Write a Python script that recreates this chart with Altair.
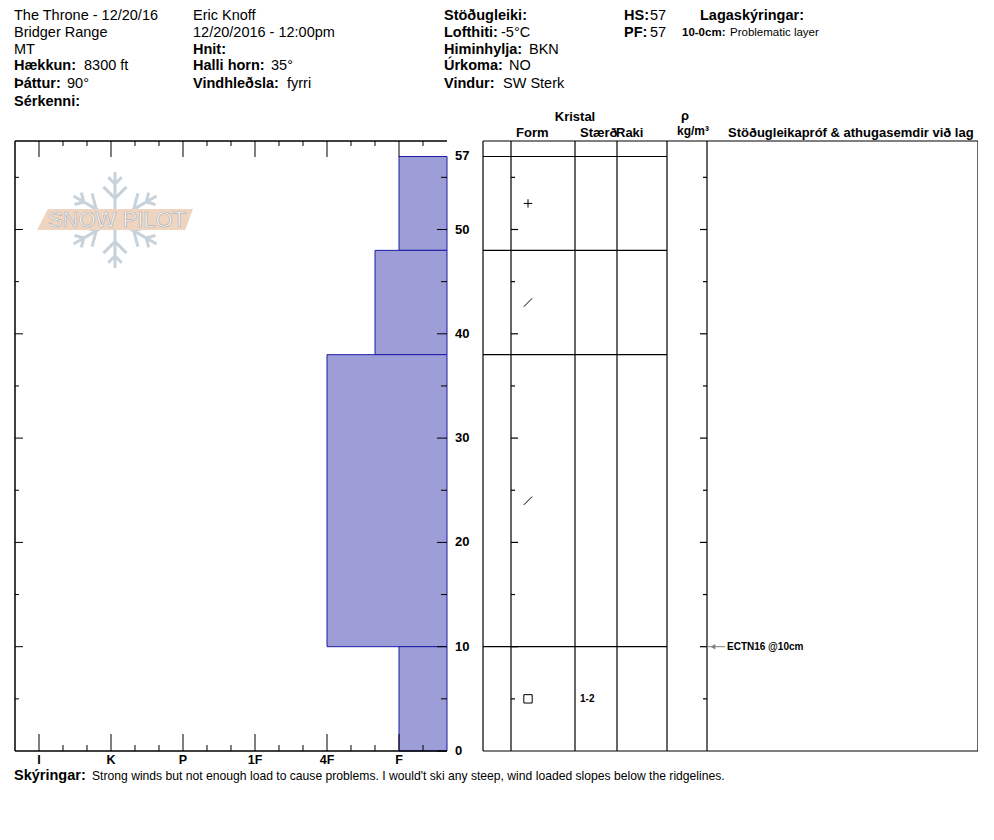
import math
import altair as alt
import pandas as pd

# ---------------- data ----------------
LAYER_TOP = [57, 48, 38, 10]
LAYER_BOTTOM = [48, 38, 10, 0]
LAYER_HARDNESS = ["F", "F+", "4F", "F"]
LAYER_FORM = ["PP", "DF", "DF", "FC"]
LAYER_SIZE = ["", "", "", "1-2"]

HARDNESS_STEPS = ["F-", "F", "F+", "4F-", "4F", "4F+", "1F-", "1F", "1F+",
                  "P-", "P", "P+", "K-", "K", "K+", "I-", "I", "I+"]
HARDNESS_LABELS = ["F", "4F", "1F", "P", "K", "I"]
DEPTH_LABELS = [0, 10, 20, 30, 40, 50, 57]
DEPTH_TICKS = [0, 5, 10, 15, 20, 25, 30, 35, 40, 45, 50, 55]

TEST_DEPTH = [10]
TEST_TEXT = ["ECTN16 @10cm"]

HEADER_ITEMS = [  # column, row, bold label, value
    (0, 0, "", "The Throne - 12/20/16"),
    (0, 1, "", "Bridger Range"),
    (0, 2, "", "MT"),
    (0, 3, "Hækkun:", "8300 ft"),
    (0, 4, "Þáttur:", "90°"),
    (0, 5, "Sérkenni:", ""),
    (1, 0, "", "Eric Knoff"),
    (1, 1, "", "12/20/2016 - 12:00pm"),
    (1, 2, "Hnit:", ""),
    (1, 3, "Halli horn:", "35°"),
    (1, 4, "Vindhleðsla:", "fyrri"),
    (2, 0, "Stöðugleiki:", ""),
    (2, 1, "Lofthiti:", "-5°C"),
    (2, 2, "Himinhylja:", "BKN"),
    (2, 3, "Úrkoma:", "NO"),
    (2, 4, "Vindur:", "SW Sterk"),
    (3, 0, "HS:", "57"),
    (3, 1, "PF:", "57"),
    (4, 0, "Lagaskýringar:", ""),
]
LAYER_NOTES = [("10-0cm:", "Problematic layer")]
NOTE_LABEL = "Skýringar:"
NOTE_TEXT = ("Strong winds but not enough load to cause problems. I would't ski any "
             "steep, wind loaded slopes below the ridgelines.")
TABLE_TITLE = "Kristal"
TABLE_COLS = ["Form", "Stærð", "Raki"]
DENSITY_HEAD = ["ρ", "kg/m³"]
COMMENT_HEAD = "Stöðugleikapróf & athugasemdir við lag"
LOGO_TEXT = "SNOW PILOT"

# ---------------- layout (page pixels) ----------------
FONT = "Liberation Sans"
W, H = 970, 800
PAGE = 8
PANEL_RIGHT = 447
PX_PER_STEP = 24
PANEL_BASE = 751
PX_PER_CM = 10.43
PANEL_TOP = 141
HEAD_SIZE = 14.5
COL_X = [14, 193, 444, 624, 700]
ROW_Y = [16, 33, 49.5, 66, 84, 102]
VALUE_DX = {"Hækkun:": 70, "Þáttur:": 53, "Halli horn:": 78, "Vindhleðsla:": 94,
            "Lofthiti:": 57, "Himinhylja:": 85, "Úrkoma:": 65, "Vindur:": 59,
            "HS:": 26, "PF:": 26}
TABLE_X = [483, 511, 575, 617, 667, 707, 978]
FORM_X = 528
SIZE_X = 580

XS_H = alt.Scale(domain=[(PANEL_RIGHT - (PAGE + W)) / PX_PER_STEP,
                         (PANEL_RIGHT - PAGE) / PX_PER_STEP],
                 reverse=True, nice=False, zero=False)
XS_PX = alt.Scale(domain=[PAGE, PAGE + W], nice=False, zero=False)
YS_CM = alt.Scale(domain=[(PANEL_BASE - (PAGE + H)) / PX_PER_CM,
                          (PANEL_BASE - PAGE) / PX_PER_CM], nice=False, zero=False)
YS_PX = alt.Scale(domain=[PAGE, PAGE + H], reverse=True, nice=False, zero=False)
TOP_CM = (PANEL_BASE - PANEL_TOP) / PX_PER_CM
NSTEPS = len(HARDNESS_STEPS)


def hidx(h):
    return HARDNESS_STEPS.index(h) + 1


def text_layer(rows, size, weight="normal", align="left", color="black"):
    df = pd.DataFrame(rows, columns=["px", "py", "t"])
    return alt.Chart(df).mark_text(font=FONT, fontSize=size, fontWeight=weight,
                                   align=align, baseline="middle", color=color).encode(
        x=alt.X("px:Q", scale=XS_PX, axis=None),
        y=alt.Y("py:Q", scale=YS_PX, axis=None),
        text="t:N")


def rules_px_cm(rows, color="black", width=1):
    df = pd.DataFrame(rows, columns=["x", "x2", "y", "y2"])
    return alt.Chart(df).mark_rule(color=color, strokeWidth=width).encode(
        x=alt.X("x:Q", scale=XS_PX, axis=None), x2="x2:Q",
        y=alt.Y("y:Q", scale=YS_CM, axis=None), y2="y2:Q")


def rules_h_cm(rows, color="black", width=1, **kw):
    df = pd.DataFrame(rows, columns=["x", "x2", "y", "y2"])
    return alt.Chart(df).mark_rule(color=color, strokeWidth=width, **kw).encode(
        x=alt.X("x:Q", scale=XS_H, axis=None), x2="x2:Q",
        y=alt.Y("y:Q", scale=YS_CM, axis=None), y2="y2:Q")


layers = []

# ---------------- logo ----------------
def flake_path():
    parts = []
    for k in range(6):
        ang = math.radians(90 + 60 * k)
        dx, dy = math.cos(ang), -math.sin(ang)
        nx, ny = -dy, dx
        parts.append(f"M{0.15*dx:.3f},{0.15*dy:.3f}L{dx:.3f},{dy:.3f}")
        for t, L in ((0.45, 0.34), (0.75, 0.2)):
            px_, py_ = t * dx, t * dy
            for s in (1, -1):
                ex = px_ + L * (0.7071 * dx + s * 0.7071 * nx)
                ey = py_ + L * (0.7071 * dy + s * 0.7071 * ny)
                parts.append(f"M{px_:.3f},{py_:.3f}L{ex:.3f},{ey:.3f}")
    return "".join(parts)

logo_df = pd.DataFrame({"px": [115], "py": [220]})
layers.append(alt.Chart(logo_df).mark_point(shape=flake_path(), size=96 * 96, filled=False,
                                            stroke="#c8d2db", strokeWidth=3, opacity=1).encode(
    x=alt.X("px:Q", scale=XS_PX, axis=None), y=alt.Y("py:Q", scale=YS_PX, axis=None)))
banner = "M-0.86,-0.135L1,-0.135L0.9,0.135L-1,0.135Z"
layers.append(alt.Chart(pd.DataFrame({"px": [115], "py": [219.5]})).mark_point(
    shape=banner, size=156 * 156, filled=True, color="#efd4bf", opacity=1).encode(
    x=alt.X("px:Q", scale=XS_PX, axis=None), y=alt.Y("py:Q", scale=YS_PX, axis=None)))
layers.append(alt.Chart(pd.DataFrame({"px": [117], "py": [220], "t": [LOGO_TEXT]})).mark_text(
    font=FONT, fontSize=22, align="center", baseline="middle", fill="#fbfbfb",
    stroke="#b0b0b0", strokeWidth=0.7).encode(
    x=alt.X("px:Q", scale=XS_PX, axis=None), y=alt.Y("py:Q", scale=YS_PX, axis=None),
    text="t:N"))

# ---------------- hardness bars ----------------
bars = pd.DataFrame({
    "top": LAYER_TOP, "bottom": LAYER_BOTTOM,
    "h": [hidx(h) for h in LAYER_HARDNESS], "edge": [0] * len(LAYER_TOP)})
layers.append(alt.Chart(bars).mark_rect(fill="#9d9dd7", stroke="#1c1ca8", strokeWidth=1).encode(
    x=alt.X("h:Q", scale=XS_H, axis=None), x2="edge:Q",
    y=alt.Y("bottom:Q", scale=YS_CM, axis=None), y2="top:Q"))

# frame of hardness panel
layers.append(rules_h_cm([(NSTEPS, NSTEPS, 0, TOP_CM), (NSTEPS, 0, TOP_CM, TOP_CM),
                          (NSTEPS, 0, 0, 0)], width=1.5))

# hardness ticks
major = [hidx(h) for h in HARDNESS_LABELS]
minor = [i for i in range(1, NSTEPS) if i not in major]
layers.append(rules_h_cm([(m, m, 0, 0) for m in major], y2Offset=-17))
layers.append(rules_h_cm([(m, m, 0, 0) for m in minor], y2Offset=-6))
layers.append(rules_h_cm([(m, m, TOP_CM, TOP_CM) for m in major], y2Offset=16))
layers.append(rules_h_cm([(m, m, TOP_CM, TOP_CM) for m in minor], y2Offset=5))

# depth ticks on both sides of hardness panel
dmaj = [d for d in DEPTH_TICKS if d % 10 == 0]
dmin = [d for d in DEPTH_TICKS if d % 10 != 0]
layers.append(rules_h_cm([(0, 0, d, d) for d in dmaj], x2Offset=-10))
layers.append(rules_h_cm([(0, 0, d, d) for d in dmin], x2Offset=-6))
layers.append(rules_h_cm([(NSTEPS, NSTEPS, d, d) for d in dmaj if d > 0], x2Offset=8))
layers.append(rules_h_cm([(NSTEPS, NSTEPS, d, d) for d in dmin], x2Offset=4))

# hardness labels
hl = pd.DataFrame({"h": major, "t": HARDNESS_LABELS, "y": [0] * len(major)})
layers.append(alt.Chart(hl).mark_text(font=FONT, fontSize=12.5, fontWeight="bold",
                                      align="center", baseline="middle", dy=9).encode(
    x=alt.X("h:Q", scale=XS_H, axis=None), y=alt.Y("y:Q", scale=YS_CM, axis=None),
    text="t:N"))
# depth labels
dl = pd.DataFrame({"d": DEPTH_LABELS, "h": [0] * len(DEPTH_LABELS)})
layers.append(alt.Chart(dl).mark_text(font=FONT, fontSize=13, fontWeight="bold",
                                      align="left", baseline="middle", dx=8).encode(
    x=alt.X("h:Q", scale=XS_H, axis=None), y=alt.Y("d:Q", scale=YS_CM, axis=None),
    text="d:Q"))

# ---------------- table ----------------
grid = [(x, x, 0, TOP_CM) for x in TABLE_X]
grid += [(TABLE_X[0], TABLE_X[-1], TOP_CM, TOP_CM), (TABLE_X[0], TABLE_X[-1], 0, 0)]
grid += [(TABLE_X[0], TABLE_X[4], t, t) for t in LAYER_TOP]
layers.append(rules_px_cm(grid, width=1.2))

# small depth ticks inside the table
tick_rows = []
for d in DEPTH_TICKS[1:]:
    L = 7 if d % 10 == 0 else 4
    tick_rows.append((TABLE_X[1], TABLE_X[1] + L, d, d))
    tick_rows.append((TABLE_X[5] - L, TABLE_X[5], d, d))
layers.append(rules_px_cm(tick_rows, width=1.2))

# crystal forms
plus = "M-1,0L1,0M0,-1L0,1"
slash = "M-1,1L1,-1"
square = "M-1,-1L1,-1L1,1L-1,1Z"
forms = pd.DataFrame({"mid": [(a + b) / 2 for a, b in zip(LAYER_TOP, LAYER_BOTTOM)],
                      "form": LAYER_FORM, "px": [FORM_X] * len(LAYER_FORM),
                      "size": LAYER_SIZE, "sx": [SIZE_X] * len(LAYER_FORM)})
layers.append(alt.Chart(forms).mark_point(filled=False, size=70, stroke="black",
                                          strokeWidth=1, opacity=1).encode(
    x=alt.X("px:Q", scale=XS_PX, axis=None), y=alt.Y("mid:Q", scale=YS_CM, axis=None),
    shape=alt.Shape("form:N", scale=alt.Scale(domain=["PP", "DF", "FC"],
                                              range=[plus, slash, square]), legend=None)))
layers.append(alt.Chart(forms).mark_text(font=FONT, fontSize=10, fontWeight="bold",
                                         align="left", baseline="middle").encode(
    x=alt.X("sx:Q", scale=XS_PX, axis=None), y=alt.Y("mid:Q", scale=YS_CM, axis=None),
    text="size:N"))

# stability test
tests = pd.DataFrame({"d": TEST_DEPTH, "t": TEST_TEXT, "x1": [TABLE_X[5]] * len(TEST_DEPTH),
                      "x2": [TABLE_X[5] + 18] * len(TEST_DEPTH),
                      "ax": [TABLE_X[5] + 6] * len(TEST_DEPTH)})
layers.append(alt.Chart(tests).mark_rule(color="#808080", strokeWidth=1).encode(
    x=alt.X("x1:Q", scale=XS_PX, axis=None), x2="x2:Q",
    y=alt.Y("d:Q", scale=YS_CM, axis=None)))
layers.append(alt.Chart(tests).mark_point(shape="triangle-left", size=30, filled=True,
                                          color="#808080", opacity=1).encode(
    x=alt.X("ax:Q", scale=XS_PX, axis=None), y=alt.Y("d:Q", scale=YS_CM, axis=None)))
layers.append(alt.Chart(tests).mark_text(font=FONT, fontSize=10, fontWeight="bold",
                                         align="left", baseline="middle", dx=2).encode(
    x=alt.X("x2:Q", scale=XS_PX, axis=None), y=alt.Y("d:Q", scale=YS_CM, axis=None),
    text="t:N"))

# table headers
layers.append(text_layer([(575, 117, TABLE_TITLE)], 13, "bold", "center"))
layers.append(text_layer([(516, 133, TABLE_COLS[0]), (580, 133, TABLE_COLS[1]),
                          (616, 133, TABLE_COLS[2]), (728, 133, COMMENT_HEAD)], 13, "bold"))
layers.append(text_layer([(685, 116, DENSITY_HEAD[0])], 13, "bold", "center"))
layers.append(text_layer([(693, 131, DENSITY_HEAD[1])], 12, "bold", "center"))

# ---------------- header ----------------
reg, bold = [], []
for c, r, lab, val in HEADER_ITEMS:
    x, y = COL_X[c], ROW_Y[r]
    if lab:
        bold.append((x, y, lab))
        if val:
            reg.append((x + VALUE_DX[lab], y, val))
    else:
        reg.append((x, y, val))
layers.append(text_layer(reg, HEAD_SIZE))
layers.append(text_layer(bold, HEAD_SIZE, "bold"))
layers.append(text_layer([(682, 33, LAYER_NOTES[0][0])], 11.5, "bold"))
layers.append(text_layer([(730, 33, LAYER_NOTES[0][1])], 11.5))

# ---------------- footer ----------------
layers.append(text_layer([(14, 776, NOTE_LABEL)], 14.5, "bold"))
layers.append(text_layer([(92, 776, NOTE_TEXT)], 12.15))

chart = alt.layer(*layers).resolve_scale(x="independent", y="independent").properties(
    width=W, height=H, padding=0, autosize=alt.AutoSizeParams(type="none"),
    background="white").configure_view(stroke=None)

chart.save("out.html", embed_options={"renderer": "svg", "actions": False})
